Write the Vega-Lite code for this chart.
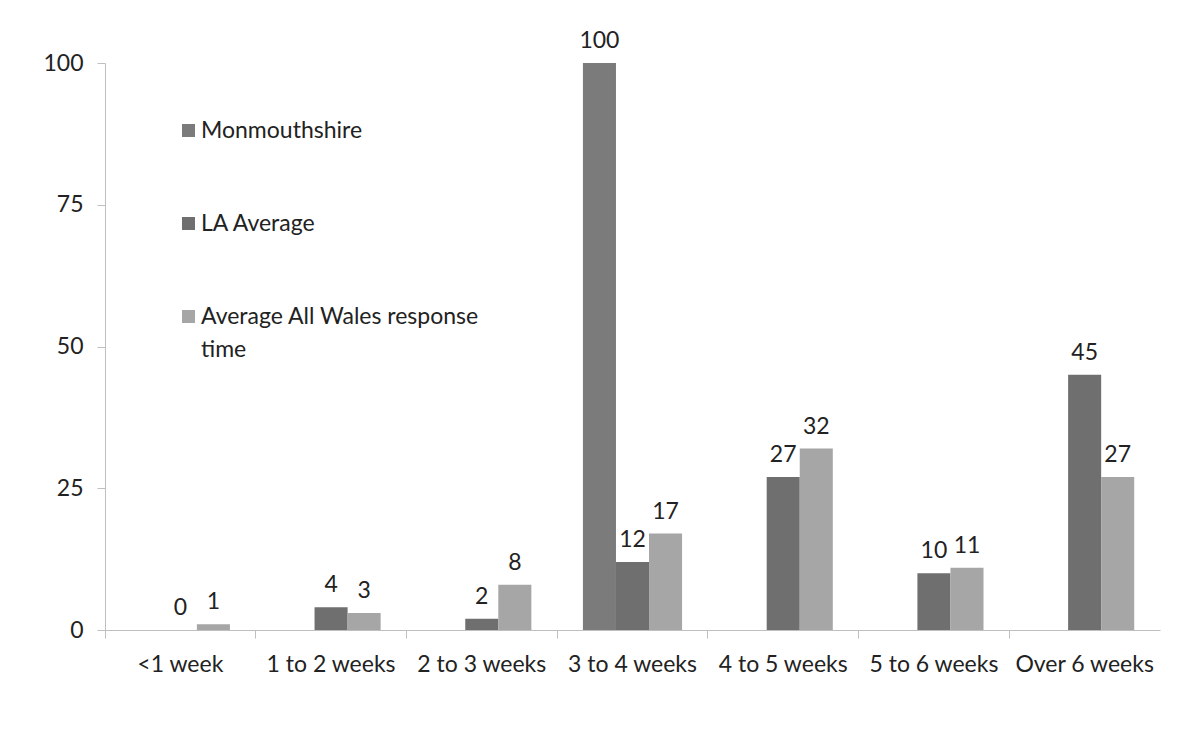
{
  "$schema": "https://vega.github.io/schema/vega-lite/v6.json",
  "autosize": "none",
  "width": 1055,
  "height": 567,
  "padding": {"left": 105, "top": 63, "right": 24, "bottom": 105},
  "background": "white",
  "config": {"view": {"stroke": null}, "font": "Lato", "style": {"guide-label": {"lineHeight": 33}}},
  "data": {"values": [
    {"period": "<1 week", "series": "LA Average", "value": 0},
    {"period": "<1 week", "series": "Average All Wales response time", "value": 1},
    {"period": "1 to 2 weeks", "series": "LA Average", "value": 4},
    {"period": "1 to 2 weeks", "series": "Average All Wales response time", "value": 3},
    {"period": "2 to 3 weeks", "series": "LA Average", "value": 2},
    {"period": "2 to 3 weeks", "series": "Average All Wales response time", "value": 8},
    {"period": "3 to 4 weeks", "series": "Monmouthshire", "value": 100},
    {"period": "3 to 4 weeks", "series": "LA Average", "value": 12},
    {"period": "3 to 4 weeks", "series": "Average All Wales response time", "value": 17},
    {"period": "4 to 5 weeks", "series": "LA Average", "value": 27},
    {"period": "4 to 5 weeks", "series": "Average All Wales response time", "value": 32},
    {"period": "5 to 6 weeks", "series": "LA Average", "value": 10},
    {"period": "5 to 6 weeks", "series": "Average All Wales response time", "value": 11},
    {"period": "Over 6 weeks", "series": "LA Average", "value": 45},
    {"period": "Over 6 weeks", "series": "Average All Wales response time", "value": 27}
  ]},
  "encoding": {
    "x": {
      "field": "period", "type": "nominal",
      "sort": ["<1 week", "1 to 2 weeks", "2 to 3 weeks", "3 to 4 weeks", "4 to 5 weeks", "5 to 6 weeks", "Over 6 weeks"],
      "scale": {"paddingInner": 0, "paddingOuter": 0},
      "axis": {"title": null, "labelAngle": 0, "labelFontSize": 23, "labelColor": "#222222", "labelPadding": 15,
               "domainColor": "#bfbfbf", "tickColor": "#bfbfbf", "tickSize": 8, "bandPosition": 0, "labelFont": "Lato"}
    },
    "xOffset": {
      "field": "series", "type": "nominal",
      "scale": {"domain": ["Monmouthshire", "LA Average", "Average All Wales response time"], "paddingOuter": 0.78, "paddingInner": 0}
    },
    "y": {
      "field": "value", "type": "quantitative",
      "scale": {"domain": [0, 100]},
      "axis": {"title": null, "values": [0, 25, 50, 75, 100], "grid": false, "labelFontSize": 23, "labelColor": "#222222",
               "domainColor": "#bfbfbf", "tickColor": "#bfbfbf", "tickSize": 8, "labelPadding": 14, "labelFont": "Lato"}
    }
  },
  "layer": [
    {
      "mark": {"type": "bar"},
      "encoding": {
        "color": {
          "field": "series", "type": "nominal",
          "scale": {"domain": ["Monmouthshire", "LA Average", "Average All Wales response time"], "range": ["#7b7b7b", "#6f6f6f", "#a6a6a6"]},
          "legend": {
            "title": null, "orient": "none", "legendX": 72, "legendY": 56,
            "symbolType": "square", "symbolSize": 170, "symbolStrokeWidth": 0,
            "labelFontSize": 23, "labelColor": "#222222", "labelFont": "Lato", "labelLimit": 400,
            "rowPadding": 69, "labelOffset": 1,
            "labelExpr": "datum.label == 'Average All Wales response time' ? ['Average All Wales response', 'time'] : datum.label"
          }
        }
      }
    },
    {
      "mark": {"type": "text", "dy": -22, "fontSize": 23, "color": "#222222", "font": "Lato"},
      "encoding": {"text": {"field": "value", "type": "quantitative"}}
    }
  ]
}
